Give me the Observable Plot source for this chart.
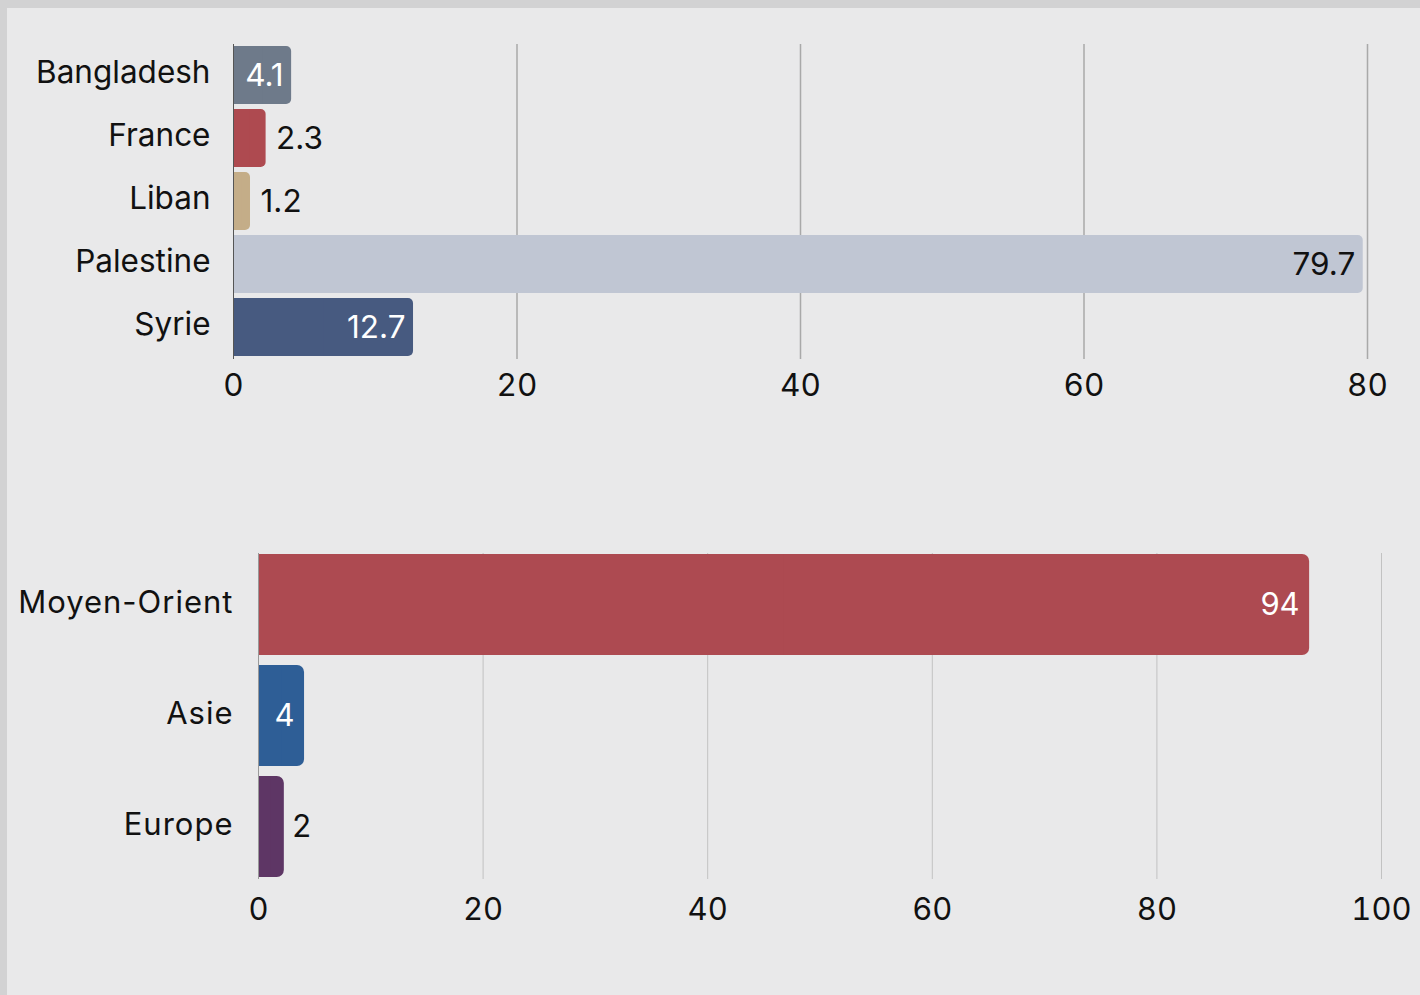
<!DOCTYPE html>
<html><head><meta charset="utf-8">
<script src="https://cdn.jsdelivr.net/npm/d3@7"></script>
<script src="https://cdn.jsdelivr.net/npm/@observablehq/plot@0.6"></script>
<style>
html,body{margin:0;padding:0;}
body{width:1420px;height:995px;background:#d2d2d3;overflow:hidden;position:relative;font-family:Inter,sans-serif;}
#panel{position:absolute;left:7px;top:8px;right:0;bottom:0;background:#e9e9ea;}
#top{position:absolute;left:0;top:0;}
#bottom{position:absolute;left:0;top:470px;}
</style></head><body><div id="panel"></div><div id="top"></div><div id="bottom"></div>
<script>
// Top chart data
const countries = ["Bangladesh", "France", "Liban", "Palestine", "Syrie"];
const countryValues = [4.1, 2.3, 1.2, 79.7, 12.7];
const countryTicks = [0, 20, 40, 60, 80];
// Bottom chart data
const regions = ["Moyen-Orient", "Asie", "Europe"];
const regionValues = [93.6, 4.1, 2.3];
const regionTicks = [0, 20, 40, 60, 80, 100];

const countryPalette = ["#6e7a8a", "#ae4a50", "#c4ad88", "#c0c6d3", "#475a80"];
const regionPalette = ["#ad4a51", "#2e5e96", "#5e3665"];

function chart({names, values, palette, ticks, fmt, opts}) {
  const data = names.map((n, i) => ({name: n, value: values[i], color: palette[i]}));
  const light = d => d3.hsl(d.color).l > 0.6;
  const inside = data.filter(d => d.value >= 3);
  const outside = data.filter(d => d.value < 3);
  const svg = Plot.plot({
    width: 1420,
    height: opts.height,
    marginLeft: opts.ml, marginRight: opts.mr, marginTop: opts.mt, marginBottom: opts.mb,
    style: {background: "transparent", fontFamily: opts.font, fontSize: opts.fs + "px", color: "#111", overflow: "visible"},
    x: {domain: [ticks[0], ticks[ticks.length - 1]]},
    y: {domain: names, paddingInner: opts.pad, paddingOuter: 0},
    color: {domain: names, range: palette},
    marks: [
      Plot.ruleX(ticks.slice(1), {stroke: opts.grid, strokeWidth: opts.gw}),
      Plot.barX(data, {y: "name", x: "value", fill: "name", rx: opts.r}),
      Plot.barX(data, {y: "name", x1: 0, x2: d => d.value / 2, fill: "name"}),
      Plot.ruleX([0], {stroke: opts.axis, strokeWidth: 1}),
      Plot.text(inside.filter(d => !light(d)), {y: "name", x: "value", text: d => fmt(d.value), textAnchor: "end", dx: -opts.inPad, fill: "white", fontSize: opts.fs}),
      Plot.text(inside.filter(light), {y: "name", x: "value", text: d => fmt(d.value), textAnchor: "end", dx: -opts.inPad, fill: "#111", fontSize: opts.fs}),
      Plot.text(outside, {y: "name", x: "value", text: d => fmt(d.value), textAnchor: "start", dx: opts.outPad, fill: "#111", fontSize: opts.fs}),
      Plot.axisX(ticks, {tickSize: 0, tickPadding: opts.xtp, label: null, fontSize: opts.fs, fill: "#111"}),
      Plot.axisY(names, {tickSize: 0, tickPadding: opts.ytp, label: null, fontSize: opts.fs, fill: "#111", dy: opts.ydy})
    ]
  });
  if (opts.ls) d3.select(svg).selectAll('[aria-label="y-axis tick label"] text').style("letter-spacing", opts.ls);
  return svg;
}

document.getElementById("top").append(chart({
  names: countries, values: countryValues, palette: countryPalette, ticks: countryTicks,
  fmt: d3.format(".1f"),
  opts: {height: 420, ml: 233, mr: 53, mt: 44, mb: 61, pad: 0.078, r: 5, grid: "#a9a9a9", gw: 1.5,
         axis: "#555", font: "Inter", fs: 31.5, inPad: 8, outPad: 10, xtp: 14, ytp: 23, ydy: -3}
}));

document.getElementById("bottom").append(chart({
  names: regions, values: regionValues, palette: regionPalette, ticks: regionTicks,
  fmt: d3.format(".0f"),
  opts: {height: 525, ml: 258, mr: 39, mt: 83, mb: 116, pad: 0.089, r: 7, grid: "#c2c2c2", gw: 1,
         axis: "#999", font: "Inter", fs: 31, inPad: 10, outPad: 8, xtp: 18, ytp: 25, ydy: -2, ls: "1px"}
}));
</script>
</body></html>
